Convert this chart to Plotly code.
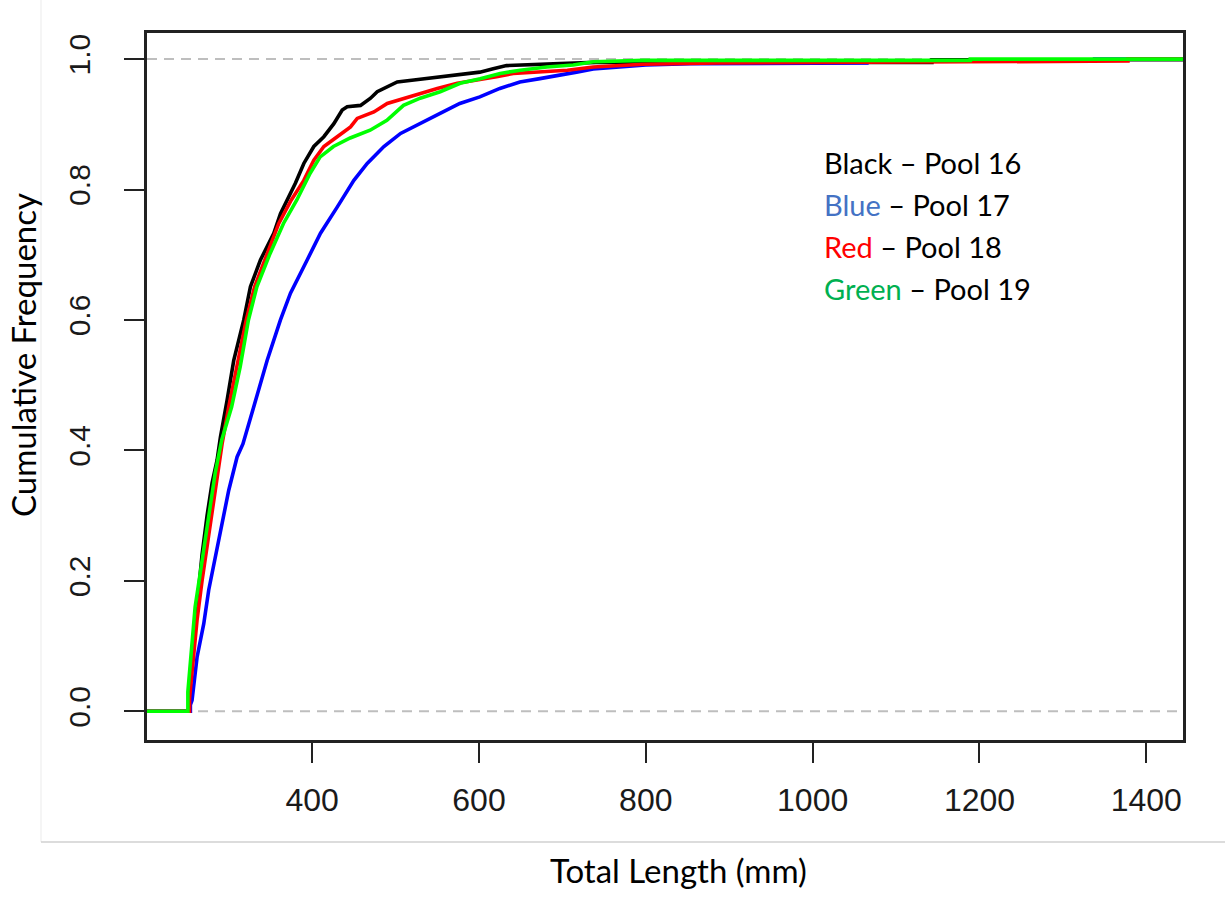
import plotly.graph_objects as go

# ---- data (Total Length mm, cumulative frequency) ----
pool16_x = [202, 252, 252, 257, 262, 268, 274, 280, 286, 290, 298, 306, 318, 326, 338, 354, 362, 374, 380,
            390, 402, 414, 426, 436, 442, 458, 470, 478, 490, 502, 522, 554, 581, 601, 617, 633, 697, 740,
            1143, 1143, 1444]
pool16_y = [0, 0, 0.03, 0.10, 0.17, 0.24, 0.30, 0.35, 0.385, 0.42, 0.477, 0.538, 0.60, 0.651, 0.692, 0.733,
            0.763, 0.794, 0.81, 0.84, 0.866, 0.881, 0.901, 0.922, 0.927, 0.929, 0.94, 0.95, 0.958, 0.965,
            0.968, 0.973, 0.978, 0.98, 0.985, 0.99, 0.993, 0.995, 0.995, 0.999, 0.999]

pool17_x = [202, 254, 254, 256, 262, 270, 276, 284, 292, 300, 310, 317, 330, 346, 362, 374, 394, 410, 430,
            441, 450, 466, 486, 506, 530, 554, 577, 601, 625, 649, 673, 697, 717, 737, 768, 800, 853, 1065,
            1065, 1338, 1338, 1444]
pool17_y = [0, 0, 0.01, 0.017, 0.083, 0.134, 0.186, 0.237, 0.288, 0.339, 0.39, 0.41, 0.467, 0.538, 0.60,
            0.641, 0.692, 0.733, 0.773, 0.795, 0.814, 0.84, 0.866, 0.886, 0.901, 0.917, 0.932, 0.942, 0.955,
            0.965, 0.97, 0.975, 0.98, 0.985, 0.988, 0.991, 0.993, 0.994, 0.997, 0.997, 1.0, 1.0]

pool18_x = [202, 253, 253, 257, 262, 268, 275, 281, 287, 292, 300, 310, 321, 331, 346, 360, 375, 390, 402,
            414, 430, 446, 454, 474, 490, 510, 530, 550, 574, 601, 621, 641, 673, 706, 737, 797, 885, 1189,
            1189, 1378, 1378, 1444]
pool18_y = [0, 0, 0.02, 0.08, 0.14, 0.20, 0.26, 0.31, 0.36, 0.41, 0.467, 0.528, 0.60, 0.651, 0.702, 0.748,
            0.784, 0.814, 0.845, 0.866, 0.881, 0.896, 0.909, 0.919, 0.932, 0.94, 0.947, 0.955, 0.963, 0.968,
            0.973, 0.978, 0.98, 0.983, 0.988, 0.992, 0.994, 0.996, 0.997, 0.997, 1.0, 1.0]

pool19_x = [202, 251, 251, 255.5, 259.7, 265.7, 271.7, 277.7, 283.7, 291.6, 303.5, 313.7, 323.6, 333.7,
            349.6, 365.6, 381.6, 397.6, 409.6, 425.5, 445.6, 469.5, 489.6, 509.5, 529.5, 553.5, 577.4, 601.4,
            625.4, 649.4, 681.3, 713, 737, 797, 1189, 1189, 1444]
pool19_y = [0, 0, 0.03, 0.099, 0.16, 0.211, 0.262, 0.313, 0.365, 0.416, 0.467, 0.528, 0.60, 0.651, 0.702,
            0.748, 0.784, 0.825, 0.85, 0.866, 0.879, 0.891, 0.906, 0.929, 0.94, 0.95, 0.963, 0.97, 0.978,
            0.983, 0.988, 0.991, 0.996, 0.998, 0.998, 1.0, 1.0]

x_ticks = [400, 600, 800, 1000, 1200, 1400]
y_ticks = [0, 0.2, 0.4, 0.6, 0.8, 1.0]
y_tick_text = ["0.0", "0.2", "0.4", "0.6", "0.8", "1.0"]

series = [
    ("Pool 16", pool16_x, pool16_y, "#000000"),
    ("Pool 17", pool17_x, pool17_y, "#0000FF"),
    ("Pool 18", pool18_x, pool18_y, "#FF0000"),
    ("Pool 19", pool19_x, pool19_y, "#00FF00"),
]

fig = go.Figure()
for name, xs, ys, col in series:
    fig.add_trace(go.Scatter(x=xs, y=ys, mode="lines", name=name,
                             line=dict(color=col, width=3.6), showlegend=False))

# dashed reference lines at 0 and 1
for yv in (0, 1):
    fig.add_shape(type="line", xref="paper", x0=0, x1=1, yref="y", y0=yv, y1=yv,
                  line=dict(color="#BEBEBE", width=2, dash="10px,7px"), layer="below")

# faint border of the pasted picture
fig.add_shape(type="line", xref="paper", yref="paper", x0=-0.1023, x1=-0.1023, y0=-0.1443, y1=1.05,
              line=dict(color="#EBEBEB", width=1))
fig.add_shape(type="line", xref="paper", yref="paper", x0=-0.1023, x1=1.05, y0=-0.1443, y1=-0.1443,
              line=dict(color="#D0D0D0", width=1.5))

title_font = dict(family="Lato", size=33, color="#000000")
fig.add_annotation(text="Total Length (mm)", xref="paper", yref="paper", x=0.5135, y=-0.1839,
                   showarrow=False, font=title_font, xanchor="center", yanchor="middle")
fig.add_annotation(text="Cumulative Frequency", xref="paper", yref="paper", x=-0.1197, y=0.5446,
                   showarrow=False, font=title_font, textangle=-90, xanchor="center", yanchor="middle")

legend_lines = [
    ("Black", "#000000", "Pool 16"),
    ("Blue", "#4472C4", "Pool 17"),
    ("Red", "#FF0000", "Pool 18"),
    ("Green", "#00B050", "Pool 19"),
]
legend_y = [0.8175, 0.7581, 0.6987, 0.6393]
for (word, col, pool), yy in zip(legend_lines, legend_y):
    fig.add_annotation(text=f"<span style='color:{col}'>{word}</span> – {pool}",
                       xref="paper", yref="paper", x=0.6515, y=yy, showarrow=False,
                       xanchor="left", yanchor="middle", font=dict(family="Lato", size=29, color="#000000"))

fig.update_layout(
    width=1225, height=899,
    margin=dict(l=147, r=42, t=33, b=159),
    paper_bgcolor="white", plot_bgcolor="white",
    showlegend=False,
)
fig.update_xaxes(range=[202, 1444], tickvals=x_ticks, ticks="outside", ticklen=20, tickwidth=2,
                 tickcolor="#222222", showline=True, linewidth=2.5, linecolor="#222222", mirror=True,
                 showgrid=False, zeroline=False, ticklabelstandoff=10,
                 tickfont=dict(family="Liberation Sans", size=32, color="#1a1a1a"))
fig.update_yaxes(range=[-0.044, 1.04], tickvals=y_ticks, ticktext=y_tick_text, tickangle=-90,
                 ticks="outside", ticklen=20, tickwidth=2, tickcolor="#222222", showline=True,
                 linewidth=2.5, linecolor="#222222", mirror=True, showgrid=False, zeroline=False,
                 ticklabelstandoff=22, tickfont=dict(family="Liberation Sans", size=30, color="#1a1a1a"))

fig.write_html("out.html", config={"displayModeBar": False},
               post_script="document.body.style.margin='0';")
